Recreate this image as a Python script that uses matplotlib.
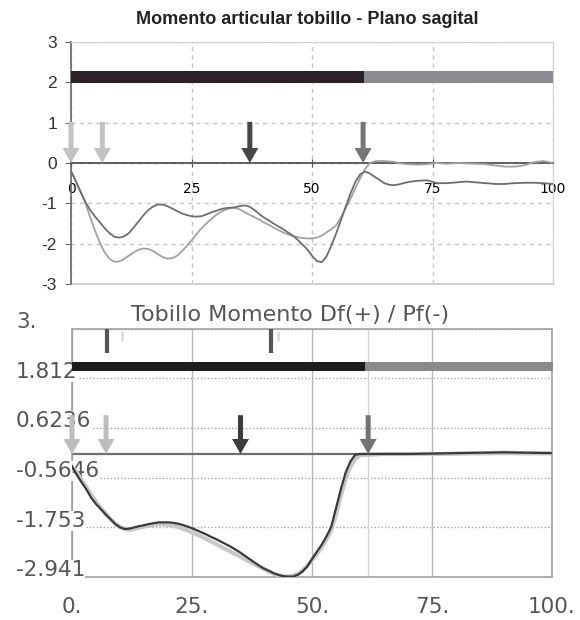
import matplotlib
matplotlib.use("Agg")
import matplotlib.pyplot as plt
from matplotlib import transforms

plt.rcParams['axes.unicode_minus'] = False

# ---- top chart data (% of gait cycle, Nm/kg) ----
top_x = [0, 1, 2, 3, 4, 5, 6, 7, 8, 9, 10, 11, 12, 13, 14, 15, 16, 17, 18, 19,
         20, 21, 22, 23, 24, 25, 26, 27, 28, 29, 30, 31, 32, 33, 34, 35, 36, 37, 38, 39,
         40, 41, 42, 43, 44, 45, 46, 47, 48, 49, 50, 51, 52, 53, 54, 55, 56, 57, 58, 59,
         60, 61, 62, 63, 64, 65, 66, 67, 68, 69, 70, 72, 74, 75, 76, 78, 80, 82, 84, 86,
         88, 90, 92, 94, 96, 98, 100]
top_a = [-0.20, -0.45, -0.72, -0.97, -1.17, -1.33, -1.47, -1.62, -1.74, -1.83, -1.85, -1.82, -1.74, -1.60, -1.45, -1.30, -1.17, -1.08, -1.03, -1.03,
         -1.07, -1.13, -1.19, -1.25, -1.29, -1.32, -1.33, -1.32, -1.28, -1.23, -1.19, -1.15, -1.12, -1.11, -1.10, -1.07, -1.05, -1.08, -1.16, -1.26,
         -1.35, -1.42, -1.50, -1.57, -1.64, -1.72, -1.80, -1.90, -2.02, -2.14, -2.30, -2.43, -2.46, -2.32, -2.05, -1.75, -1.42, -1.08, -0.75, -0.47,
         -0.28, -0.21, -0.26, -0.34, -0.42, -0.50, -0.54, -0.55, -0.53, -0.50, -0.47, -0.44, -0.43, -0.47, -0.50, -0.50, -0.48, -0.46, -0.48, -0.50,
         -0.52, -0.52, -0.50, -0.49, -0.49, -0.50, -0.52]
top_b = [-0.20, -0.45, -0.72, -1.00, -1.35, -1.68, -1.98, -2.22, -2.38, -2.45, -2.44, -2.38, -2.30, -2.22, -2.15, -2.12, -2.13, -2.18, -2.26, -2.33,
         -2.37, -2.36, -2.30, -2.19, -2.06, -1.92, -1.77, -1.63, -1.51, -1.40, -1.30, -1.22, -1.16, -1.12, -1.11, -1.15, -1.22, -1.28, -1.34, -1.40,
         -1.47, -1.53, -1.60, -1.66, -1.72, -1.77, -1.81, -1.84, -1.86, -1.87, -1.87, -1.85, -1.80, -1.72, -1.64, -1.55, -1.35, -1.12, -0.88, -0.62,
         -0.38, -0.15, 0.00, 0.04, 0.05, 0.05, 0.04, 0.03, 0.00, -0.02, -0.03, -0.04, -0.03, -0.01, 0.00, -0.02, 0.00, -0.01, -0.02, -0.03,
         -0.06, -0.09, -0.09, -0.06, 0.02, 0.05, 0.00]
top_phase = [0, 60.8, 100]
top_arrows_light = [0, 6.5]
top_arrows_dark = [37.1]
top_arrow_toe = [60.6]

# ---- bottom chart data ----
bot_x = list(range(0, 61)) + [65, 70, 75, 80, 85, 90, 95, 100]
bot_dark = [-0.30, -0.50, -0.68, -0.85, -1.05, -1.20, -1.32, -1.45, -1.56, -1.68, -1.76, -1.80, -1.79, -1.76, -1.73, -1.71, -1.68, -1.66, -1.64, -1.64,
            -1.64, -1.65, -1.67, -1.70, -1.74, -1.78, -1.83, -1.88, -1.93, -1.99, -2.04, -2.10, -2.16, -2.22, -2.29, -2.36, -2.44, -2.52, -2.60, -2.68,
            -2.75, -2.80, -2.86, -2.90, -2.93, -2.94, -2.94, -2.90, -2.82, -2.70, -2.52, -2.35, -2.18, -1.98, -1.75, -1.30, -0.85, -0.45, -0.18, -0.02,
            0.00,
            0.00, 0.00, 0.01, 0.02, 0.03, 0.04, 0.03, 0.02]
bot_light = [-0.30, -0.45, -0.62, -0.80, -0.98, -1.15, -1.30, -1.43, -1.56, -1.67, -1.75, -1.80, -1.82, -1.80, -1.77, -1.74, -1.72, -1.70, -1.69, -1.69,
             -1.70, -1.72, -1.75, -1.79, -1.83, -1.88, -1.93, -1.98, -2.04, -2.10, -2.16, -2.22, -2.28, -2.34, -2.40, -2.46, -2.52, -2.58, -2.64, -2.70,
             -2.76, -2.82, -2.87, -2.91, -2.94, -2.94, -2.92, -2.88, -2.80, -2.68, -2.55, -2.40, -2.24, -2.05, -1.82, -1.45, -1.00, -0.60, -0.30, -0.12,
             -0.03,
             0.00, 0.00, 0.00, 0.01, 0.02, 0.03, 0.02, 0.02]
bot_yticks = [3.0, 1.812, 0.6236, -0.5646, -1.753, -2.941]
bot_ylabels = ["3.", "1.812", "0.6236", "-0.5646", "-1.753", "-2.941"]
bot_xticks = [0, 25, 50, 75, 100]
bot_xlabels = ["0.", "25.", "50.", "75.", "100."]
bot_phase = [0, 61.0, 100.3]
bot_arrows_light = [0, 7.1]
bot_arrows_dark = [35.1]
bot_arrow_toe = [61.7]
bot_marks = [7.2, 41.4]
bot_marks_faint = [10.4, 42.9]

narrow = ['Liberation Sans Narrow', 'Liberation Sans', 'DejaVu Sans']

fig = plt.figure(figsize=(5.8, 6.2), dpi=100)

# ================= top chart =================
ax1 = fig.add_axes([71 / 580, 1 - 284 / 620, 482 / 580, 242 / 620])
ax1.set_xlim(0, 100)
ax1.set_ylim(-3, 3)

ax1.set_yticks([3, 2, 1, 0, -1, -2, -3])
ax1.set_yticklabels(["3", "2", "1", "0", "-1", "-2", "-3"], family=narrow, fontsize=12.5, color='#333333')
ax1.set_xticks([0, 25, 50, 75, 100])
ax1.set_xticklabels(["0", "25", "50", "75", "100"], family=narrow, fontsize=12, color='#333333')
ax1.grid(True, color='#c4c4c4', linestyle=(0, (3, 3)), linewidth=1)
ax1.set_axisbelow(True)

ax1.spines['bottom'].set_position(('data', 0))
ax1.spines['bottom'].set_color('#555555')
ax1.spines['bottom'].set_linewidth(1.3)
ax1.spines['left'].set_color('#666666')
ax1.spines['left'].set_linewidth(1.2)
for s in ['top', 'right']:
    ax1.spines[s].set_color('#d0d0d0')
ax1.axhline(-3, color='#d0d0d0', lw=1.5, clip_on=False)
ax1.tick_params(axis='x', direction='inout', length=6, color='#555555', pad=11)
ax1.tick_params(axis='y', direction='out', length=4, color='#666666', pad=6)

ax1.barh(2.13, top_phase[1] - top_phase[0], left=top_phase[0], height=0.28, color='#2a2228', zorder=3)
ax1.barh(2.13, top_phase[2] - top_phase[1], left=top_phase[1], height=0.28, color='#8c8c90', zorder=3)

ax1.plot(top_x, top_b, color='#a2a2a2', lw=1.3, zorder=4)
ax1.plot(top_x, top_a, color='#6e6e6e', lw=1.3, zorder=4)


def draw_arrows(ax, xs, top, color, sx, sy):
    for x in xs:
        ax.arrow(x, top, 0, -top, width=5 / sx, head_width=17 / sx, head_length=15 / sy,
                 length_includes_head=True, color=color, lw=0, zorder=5, clip_on=False)


draw_arrows(ax1, top_arrows_light, 1.02, '#c2c2c2', 4.82, 40.4)
draw_arrows(ax1, top_arrows_dark, 1.02, '#474747', 4.82, 40.4)
draw_arrows(ax1, top_arrow_toe, 1.02, '#767676', 4.82, 40.4)

fig.text(0.529, 1 - 19 / 620, "Momento articular tobillo - Plano sagital", family=narrow,
         fontweight='bold', fontsize=13, ha='center', va='center', color='#222222')

# ================= bottom chart =================
ax2 = fig.add_axes([72 / 580, 1 - 576.6 / 620, 480 / 580, 247.7 / 620])
ax2.set_xlim(0, 100)
ax2.set_ylim(bot_yticks[-1], bot_yticks[0])
for s in ax2.spines.values():
    s.set_color('#9a9a9a')
    s.set_linewidth(1.1)

ax2.set_yticks(bot_yticks)
ax2.set_yticklabels([])
ax2.tick_params(axis='y', length=0)
ax2.set_xticks(bot_xticks)
ax2.set_xticklabels(bot_xlabels, fontsize=15.5, color='#555555', family='DejaVu Sans')
ax2.tick_params(axis='x', length=0, pad=15)
ax2.yaxis.grid(True, color='#a8a8a8', linestyle=(0, (1, 1.5)), linewidth=1)
ax2.xaxis.grid(True, color='#b8b8b8', linestyle='-', linewidth=1)
ax2.set_axisbelow(True)
ax2.axvline(bot_arrow_toe[0], color='#d4d4d4', lw=1, zorder=1)
ax2.axhline(0, color='#707070', lw=1.6, zorder=2)

lab_tr = transforms.offset_copy(ax2.get_yaxis_transform(), fig=fig, x=0, y=6.5, units='dots')
for v, lab in zip(bot_yticks, bot_ylabels):
    ax2.text(-56 / 480, v, lab, transform=lab_tr, ha='left', va='center', fontsize=15.5,
             color='#555555', family='DejaVu Sans', clip_on=False, zorder=2.6,
             bbox=dict(facecolor='white', edgecolor='none', pad=0))

ax2.barh(2.095, bot_phase[1] - bot_phase[0], left=bot_phase[0], height=0.23, color='#1c1c1c', zorder=3, clip_on=False)
ax2.barh(2.095, bot_phase[2] - bot_phase[1], left=bot_phase[1], height=0.23, color='#8a8a8a', zorder=3, clip_on=False)

for x in bot_marks:
    ax2.plot([x, x], [3.0, 2.41], color='#555555', lw=3, solid_capstyle='butt', zorder=3)
for x in bot_marks_faint:
    ax2.plot([x, x], [2.95, 2.7], color='#dddddd', lw=2, solid_capstyle='butt', zorder=3)

ax2.plot(bot_x, bot_light, color='#c8c8c8', lw=3, zorder=4)
ax2.plot(bot_x, bot_dark, color='#3a3a3a', lw=1.6, zorder=4)

draw_arrows(ax2, bot_arrows_light, 0.93, '#bdbdbd', 4.8, 41.7)
draw_arrows(ax2, bot_arrows_dark, 0.93, '#3c3c3c', 4.8, 41.7)
draw_arrows(ax2, bot_arrow_toe, 0.93, '#737373', 4.8, 41.7)

fig.text(0.5, 1 - 315 / 620, "Tobillo Momento Df(+) / Pf(-)", fontsize=16, ha='center',
         va='center', color='#555555', family='DejaVu Sans')

fig.savefig("out.png", dpi=100, facecolor='white')
